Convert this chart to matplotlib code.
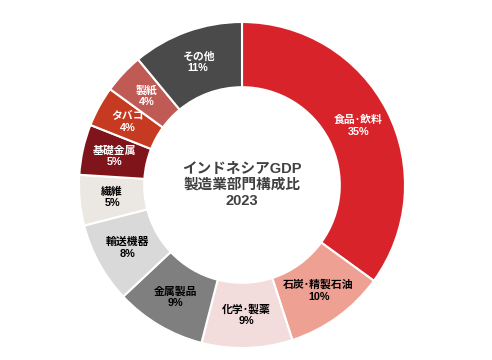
import matplotlib.pyplot as plt

plt.rcParams['font.family'] = ['Liberation Sans', 'Noto Sans CJK JP', 'DejaVu Sans']

# data
sectors = ['食品･飲料', '石炭･精製石油', '化学･製薬', '金属製品', '輸送機器',
           '繊維', '基礎金属', 'タバコ', '製紙', 'その他']
shares = [35, 10, 9, 9, 8, 5, 5, 4, 4, 11]
colors = ['#d9232b', '#eea193', '#f2dcdc', '#7f7f7f', '#d9d9d9',
          '#ebe8e3', '#7f141a', '#c63a22', '#c05a55', '#4a4a4a']
text_colors = ['white', 'black', 'black', 'black', 'black',
               'black', 'white', 'white', 'white', 'white']

fig = plt.figure(figsize=(4.92, 3.6), dpi=100)
ax = fig.add_axes([(242 - 163) / 492, (175 - 163) / 360, 326 / 492, 326 / 360])

labels = [f'{s}\n{v}%' for s, v in zip(sectors, shares)]
wedges, texts = ax.pie(shares, colors=colors, startangle=90, counterclock=False,
                       radius=1, labels=labels, labeldistance=0.8,
                       wedgeprops=dict(width=0.4, edgecolor='white', linewidth=1.5),
                       textprops=dict(fontsize=7.8, fontweight='bold', ha='center',
                                      va='center', linespacing=1.2))
for t, c in zip(texts, text_colors):
    t.set_color(c)
    t.set_horizontalalignment('center')

ax.text(0, 0, 'インドネシアGDP\n製造業部門構成比\n2023', ha='center', va='center',
        fontsize=10.5, fontweight='bold', color='#404040', linespacing=1.2)
ax.set_xlim(-1, 1)
ax.set_ylim(-1, 1)

fig.savefig('out.png', dpi=100)
